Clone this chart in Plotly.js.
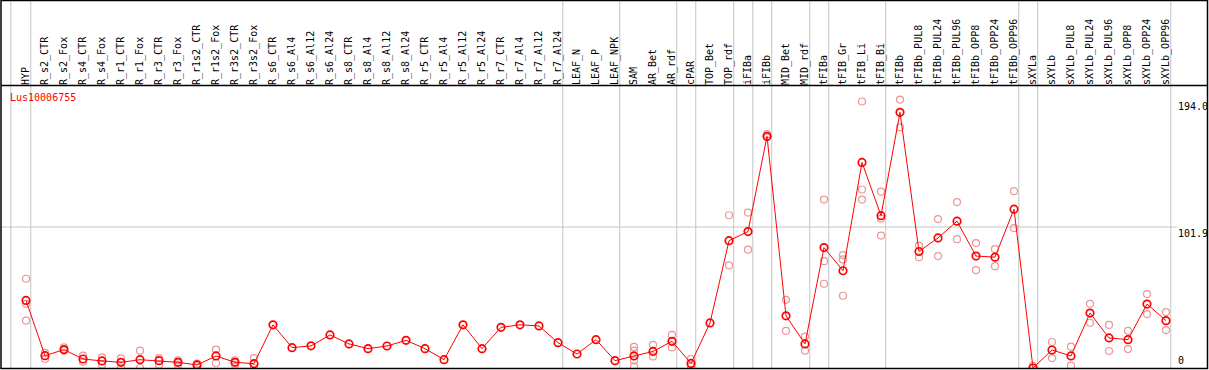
<!DOCTYPE html>
<html>
<head>
<meta charset="utf-8">
<script src="https://cdn.plot.ly/plotly-3.0.1.min.js"></script>
<style>
  html, body { margin: 0; padding: 0; background: #ffffff; }
  #chart { width: 1209px; height: 370px; }
</style>
</head>
<body>
<div id="chart"></div>
<script>
// ---------------- data ----------------
const geneName = 'Lus10006755';

const categories = [
  'HYP', 'R_s2_CTR', 'R_s2_Fox', 'R_s4_CTR', 'R_s4_Fox', 'R_r1_CTR', 'R_r1_Fox',
  'R_r3_CTR', 'R_r3_Fox', 'R_r1s2_CTR', 'R_r1s2_Fox', 'R_r3s2_CTR', 'R_r3s2_Fox',
  'R_s6_CTR', 'R_s6_Al4', 'R_s6_Al12', 'R_s6_Al24', 'R_s8_CTR', 'R_s8_Al4',
  'R_s8_Al12', 'R_s8_Al24', 'R_r5_CTR', 'R_r5_Al4', 'R_r5_Al12', 'R_r5_Al24',
  'R_r7_CTR', 'R_r7_Al4', 'R_r7_Al12', 'R_r7_Al24', 'LEAF_N', 'LEAF_P', 'LEAF_NPK',
  'SAM', 'AR_Bet', 'AR_rdf', 'cPAR', 'TOP_Bet', 'TOP_rdf', 'iFIBa', 'iFIBb',
  'MID_Bet', 'MID_rdf', 'tFIBa', 'tFIB_Gr', 'tFIB_Li', 'tFIB_Bi', 'tFIBb',
  'tFIBb_PUL8', 'tFIBb_PUL24', 'tFIBb_PUL96', 'tFIBb_OPP8', 'tFIBb_OPP24', 'tFIBb_OPP96',
  'sXYLa', 'sXYLb', 'sXYLb_PUL8', 'sXYLb_PUL24', 'sXYLb_PUL96', 'sXYLb_OPP8',
  'sXYLb_OPP24', 'sXYLb_OPP96'
];

// mean expression per sample (red line)
const meanValues = [
  48.8, 8.9, 13.3, 6.5, 5.1, 4.1, 6.0,
  5.3, 4.1, 2.2, 8.7, 4.1, 3.1,
  31.2, 14.7, 16.0, 23.9, 17.4, 14.0,
  15.9, 20.0, 14.0, 6.0, 31.2, 14.0,
  29.4, 31.2, 30.4, 18.3, 10.1, 20.5, 5.3,
  8.7, 12.0, 19.3, 3.3, 32.6, 92.0, 98.6, 167.4,
  37.7, 17.4, 87.0, 70.3, 148.6, 110.1, 184.8,
  84.2, 94.0, 106.1, 80.9, 80.1, 114.8,
  0.0, 13.0, 8.7, 39.7, 21.7, 20.5,
  46.2, 34.2
];

// individual replicates (pink circles); null = no replicate shown
const replicate1 = [
  64.5, 10.9, 14.9, 8.9, 7.7, 7.0, 12.5,
  7.2, 5.5, 3.1, 13.3, 5.5, 7.2,
  null, null, null, null, null, null,
  null, null, null, null, null, null,
  null, null, null, null, null, null, null,
  15.2, 16.7, 23.9, 6.5, null, 110.4, 112.3, 169.0,
  49.3, 22.7, 121.7, 81.6, 192.6, 127.5, 194.0,
  88.5, 107.6, 119.9, 90.3, 85.9, 127.8,
  1.5, 18.8, 15.4, 46.4, 31.1, 26.9,
  53.4, 40.4
];
const replicate2 = [
  46.4, 6.5, 12.5, 4.6, 2.4, 0.3, 0.0,
  2.4, 2.4, 1.2, 3.6, 2.4, 0.0,
  null, null, null, null, null, null,
  null, null, null, null, null, null,
  null, null, null, null, null, null, null,
  12.5, 8.4, 14.9, 1.2, null, 74.1, 85.5, 166.7,
  26.8, 12.5, 77.2, 78.5, 129.0, 108.0, 173.9,
  80.1, 80.9, 93.1, 70.8, 73.6, 101.1,
  0.0, 7.2, 1.7, 32.7, 12.3, 13.7,
  39.0, 27.4
];
const replicate3 = [
  34.3, null, null, null, null, null, null,
  null, null, null, null, null, null,
  null, null, null, null, null, null,
  null, null, null, null, null, null,
  null, null, null, null, null, null, null,
  5.5, null, null, null, null, null, null, null,
  null, null, 60.9, 52.2, 121.7, 95.7, null,
  null, null, null, null, null, null,
  null, null, null, null, null, null,
  null, null
];
const replicate4 = [
  null, null, null, null, null, null, null,
  null, null, null, null, null, null,
  null, null, null, null, null, null,
  null, null, null, null, null, null,
  null, null, null, null, null, null, null,
  1.2, null, null, null, null, null, null, null,
  null, null, null, null, null, null, null,
  null, null, null, null, null, null,
  null, null, null, null, null, null,
  null, null
];

// value axis
const yTickValues = [0, 101.9, 194.0];
const yTickLabels = ['0', '101.9', '194.0'];
const yAxisTop = 203.8;

// sample groups: a separator line is drawn after each of these samples
const groupEnds = ['HYP', 'R_r7_Al24', 'LEAF_NPK', 'AR_rdf', 'cPAR', 'TOP_rdf', 'iFIBa',
  'iFIBb', 'MID_rdf', 'tFIBa', 'tFIB_Bi', 'tFIBb_OPP96', 'sXYLa', 'sXYLb_OPP96'];

// ---------------- layout helpers ----------------
const W = 1209, H = 370;
const M = { l: 2, r: 2, t: 86, b: 2 };
const PW = W - M.l - M.r, PH = H - M.t - M.b;
const px2x = px => (px - M.l) / PW;
const px2y = py => (H - M.b - py) / PH;

const firstX = 26, step = 19;   // pixel centre of first category and spacing
const xRange = [(M.l - firstX) / step, (W - M.r - firstX) / step];

const mono = 'DejaVu Sans Mono, Liberation Mono, monospace';
const gridColor = '#c4c4c4';

// pink replicate trace
const repX = [], repY = [];
[replicate1, replicate2, replicate3, replicate4].forEach(arr => {
  arr.forEach((v, i) => { if (v !== null) { repX.push(categories[i]); repY.push(v); } });
});

const traces = [
  {
    type: 'scatter', mode: 'markers', x: repX, y: repY,
    marker: { symbol: 'circle-open', size: 7, color: '#eb9696', line: { width: 1.2, color: '#eb9696' } },
    hoverinfo: 'skip', showlegend: false
  },
  {
    type: 'scatter', mode: 'lines+markers', x: categories, y: meanValues,
    line: { color: '#ff0000', width: 1 },
    marker: { symbol: 'circle-open', size: 7.5, color: '#ff0000', line: { width: 1.7, color: '#ff0000' } },
    showlegend: false
  }
];

const shapes = [];
// group separators
const sepPositions = [-0.8].concat(groupEnds.map(c => categories.indexOf(c) + 0.25));
sepPositions.forEach(p => {
  shapes.push({ type: 'line', xref: 'x', yref: 'paper', x0: p, x1: p, y0: px2y(368), y1: px2y(0),
    line: { color: gridColor, width: 1 }, layer: 'below' });
});
// middle value grid line
shapes.push({ type: 'line', xref: 'paper', yref: 'y', x0: px2x(1), x1: px2x(1177),
  y0: yTickValues[1], y1: yTickValues[1], line: { color: gridColor, width: 1 }, layer: 'below' });
// frame and header separator
shapes.push({ type: 'rect', xref: 'paper', yref: 'paper', x0: px2x(1), x1: px2x(1207.5),
  y0: px2y(368.5), y1: px2y(0.5), line: { color: '#000000', width: 1.5 }, layer: 'above' });
shapes.push({ type: 'line', xref: 'paper', yref: 'paper', x0: px2x(1), x1: px2x(1207.5),
  y0: px2y(85.5), y1: px2y(85.5), line: { color: '#000000', width: 1.5 }, layer: 'above' });

const annotations = [
  { text: geneName, xref: 'paper', yref: 'paper', x: px2x(8), y: px2y(97),
    xanchor: 'left', yanchor: 'middle', showarrow: false,
    font: { family: mono, size: 10, color: '#ff0000' } }
];
yTickValues.forEach((v, i) => {
  annotations.push({ text: yTickLabels[i], xref: 'paper', yref: 'y', x: px2x(1176), y: v,
    xanchor: 'left', yanchor: v === 0 ? 'bottom' : 'top', yshift: v === 0 ? 0 : 1,
    showarrow: false, font: { family: mono, size: 10, color: '#000000' } });
});

const layout = {
  width: W, height: H,
  margin: M,
  paper_bgcolor: '#ffffff', plot_bgcolor: '#ffffff',
  showlegend: false,
  xaxis: {
    type: 'category', categoryorder: 'array', categoryarray: categories,
    range: xRange, side: 'top', tickmode: 'array', tickvals: categories, ticktext: categories,
    tickangle: -90, ticks: '', showgrid: false, zeroline: false, showline: false,
    automargin: false, fixedrange: true,
    tickfont: { family: mono, size: 10, color: '#000000' }
  },
  yaxis: {
    range: [0, yAxisTop], showticklabels: false, showgrid: false, zeroline: false,
    showline: false, ticks: '', automargin: false, fixedrange: true
  },
  shapes: shapes,
  annotations: annotations
};

Plotly.newPlot('chart', traces, layout, { staticPlot: true, displayModeBar: false });
</script>
</body>
</html>
